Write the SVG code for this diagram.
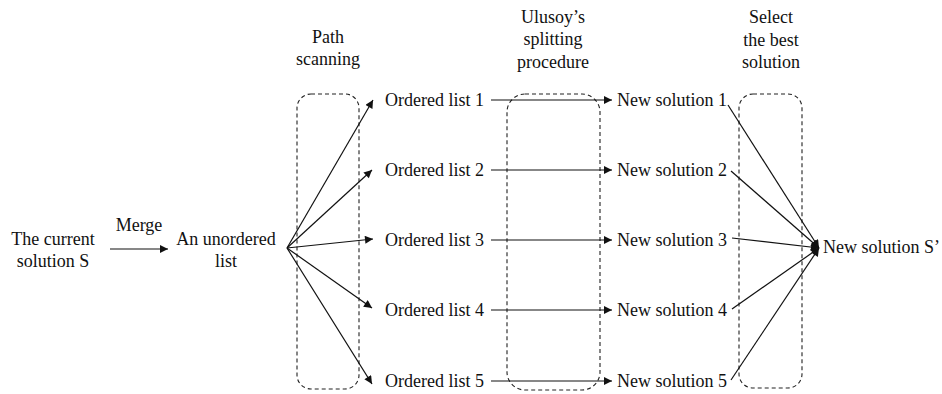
<svg xmlns="http://www.w3.org/2000/svg" width="942" height="394" viewBox="0 0 942 394">
<style>
text{font-size:18px;fill:#111}
.c{text-anchor:middle}
.box{fill:none;stroke:#222;stroke-width:1.1;stroke-dasharray:4,3}
.ln{stroke:#111;stroke-width:1.2;fill:none}
.ar{marker-end:url(#ah)}
</style>
<defs>
<marker id="ah" viewBox="0 0 10 10" refX="10" refY="5" markerUnits="userSpaceOnUse" markerWidth="9" markerHeight="8" orient="auto">
<path d="M0,0 L10,5 L0,10 z" fill="#111"/>
</marker>
</defs>
<rect width="942" height="394" fill="#fff"/>
<g font-family="'Liberation Serif', 'Times New Roman', 'DejaVu Serif', serif">
<g id="headers">
<text class="c" x="328" y="43">Path</text>
<text class="c" x="328" y="65">scanning</text>
<text class="c" x="553" y="23">Ulusoy’s</text>
<text class="c" x="553" y="45">splitting</text>
<text class="c" x="553" y="68">procedure</text>
<text class="c" x="771" y="23">Select</text>
<text class="c" x="771" y="46">the best</text>
<text class="c" x="771" y="68">solution</text>
</g>
<g id="n-current"><text class="c" x="53" y="245">The current</text><text class="c" x="53" y="267">solution S</text></g>
<g id="n-merge"><text class="c" x="139" y="231">Merge</text></g>
<g id="n-unordered"><text class="c" x="226" y="245">An unordered</text><text class="c" x="226" y="267">list</text></g>
<g id="n-ol1"><text x="385" y="106">Ordered list 1</text></g>
<g id="n-ol2"><text x="385" y="176">Ordered list 2</text></g>
<g id="n-ol3"><text x="385" y="246">Ordered list 3</text></g>
<g id="n-ol4"><text x="385" y="316">Ordered list 4</text></g>
<g id="n-ol5"><text x="385" y="387">Ordered list 5</text></g>
<g id="n-ns1"><text x="617" y="106">New solution 1</text></g>
<g id="n-ns2"><text x="617" y="176">New solution 2</text></g>
<g id="n-ns3"><text x="617" y="246">New solution 3</text></g>
<g id="n-ns4"><text x="617" y="316">New solution 4</text></g>
<g id="n-ns5"><text x="617" y="387">New solution 5</text></g>
<g id="n-final"><text x="823" y="253">New solution S’</text></g>
</g>
<g id="boxes">
<rect id="box-path" class="box" x="297" y="94" width="62" height="295" rx="14"/>
<rect id="box-split" class="box" x="507" y="94" width="93" height="296" rx="18"/>
<rect id="box-select" class="box" x="739" y="94" width="63" height="294" rx="14"/>
</g>
<g id="connectors">
<line class="ln ar" x1="110" y1="249" x2="168" y2="249"/>
<line class="ln ar" x1="287" y1="248" x2="373" y2="100"/>
<line class="ln ar" x1="287" y1="248" x2="372" y2="170"/>
<line class="ln ar" x1="287" y1="248" x2="373" y2="239"/>
<line class="ln ar" x1="287" y1="248" x2="372" y2="308"/>
<line class="ln ar" x1="287" y1="248" x2="372" y2="384"/>
<line class="ln ar" x1="491" y1="100" x2="612" y2="100"/>
<line class="ln ar" x1="491" y1="170" x2="612" y2="170"/>
<line class="ln ar" x1="491" y1="240" x2="612" y2="240"/>
<line class="ln ar" x1="491" y1="310" x2="612" y2="310"/>
<line class="ln ar" x1="491" y1="381" x2="612" y2="381"/>
<line class="ln ar" x1="728" y1="105" x2="819" y2="248"/>
<line class="ln ar" x1="731" y1="171" x2="819" y2="248"/>
<line class="ln ar" x1="732" y1="238" x2="819" y2="248"/>
<line class="ln ar" x1="732" y1="309" x2="819" y2="248"/>
<line class="ln ar" x1="731" y1="380" x2="819" y2="248"/>
</g>
</svg>
